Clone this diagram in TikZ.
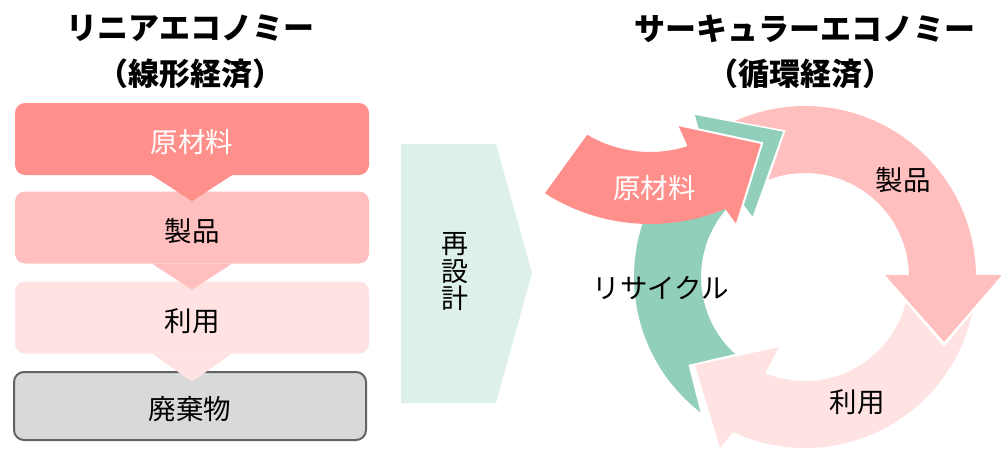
\documentclass[tikz,border=0pt]{standalone}
\usepackage{fontspec}
\setmainfont{Noto Sans CJK JP}
\definecolor{cRaw}{HTML}{FF8F8A}
\definecolor{cProd}{HTML}{FFBFBE}
\definecolor{cUse}{HTML}{FFE3E3}
\definecolor{cGreen}{HTML}{91CFBB}
\definecolor{cMid}{HTML}{DDF0EC}
\definecolor{cWaste}{HTML}{D9D9D9}
\definecolor{cWasteLine}{HTML}{636363}
\begin{document}
\begin{tikzpicture}[x=1pt,y=1pt,
  lbl/.style={font=\fontsize{27.5}{30}\selectfont, text=black, inner sep=0pt},
  ttl/.style={font=\fontsize{31}{34}\selectfont\bfseries, inner sep=0pt},
  box/.style={minimum width=354pt, minimum height=72pt, rounded corners=10pt, inner sep=0pt,
              font=\fontsize{27.5}{30}\selectfont, text height=30pt, text depth=3pt},
]
\useasboundingbox (0,0) rectangle (1001,451);

% titles
\node[ttl] (tL1) at (190,422.5) {リニアエコノミー};
\node[ttl] (tL2) at (190,377) {（線形経済）};
\node[ttl] (tR1) at (804.5,422.5) {サーキュラーエコノミー};
\node[ttl] (tR2) at (800,377) {（循環経済）};

% linear stack
\node[box, fill=cWaste, draw=cWasteLine, line width=2pt, minimum width=352pt, minimum height=68pt] (waste) at (190,45) {廃棄物};
\node[box, fill=cUse] (useL) at (192,133.5) {利用};
\fill[cUse] ([xshift=-40pt]useL.south) -- ([xshift=40pt]useL.south) -- ([yshift=-28pt]useL.south) -- cycle;
\node[box, fill=cProd] (prodL) at (192,223.5) {製品};
\fill[cProd] ([xshift=-40pt]prodL.south) -- ([xshift=40pt]prodL.south) -- ([yshift=-26pt]prodL.south) -- cycle;
\node[box, fill=cRaw, text=white] (rawL) at (192,312) {原材料};
\fill[cRaw] ([xshift=-40pt]rawL.south) -- ([xshift=40pt]rawL.south) -- ([yshift=-26pt]rawL.south) -- cycle;

% redesign arrow
\fill[cMid] (401,48) -- (496,48) -- (532,178) -- (496,307) -- (401,307) -- cycle;
\node[lbl, align=center, font=\fontsize{27}{27.5}\selectfont] (redesign) at (455,179) {再\\設\\計};

% circular arrows
\begin{scope}[shift={(805,174)}]
\fill[cGreen] (232.3:171) arc[start angle=232.3, end angle=127, radius=171pt] -- (124.2:196) -- (98.6:147) -- (131:80) -- (130:104) arc[start angle=130, end angle=227.7, radius=104pt] -- (217:146) -- cycle;
\fill[cProd] (114.2:171) arc[start angle=114.2, end angle=0.7, radius=171pt] -- (0.6:197) -- (-25:153.5) -- (1.4:80) -- (1.1:104) arc[start angle=1.1, end angle=110.5, radius=104pt] -- (97.5:148) -- cycle;
\fill[cUse] (-12.3:171) arc[start angle=-12.3, end angle=-115, radius=171pt] -- (-116.4:191) -- (-141.3:141) -- (-110.4:75) -- (-112.6:104) arc[start angle=-112.6, end angle=-14.2, radius=104pt] -- (-26.7:155.6) -- cycle;
\end{scope}
\begin{scope}[shift={(650,422)}]
\fill[cRaw] (239.3:123) arc[start angle=239.3, end angle=287.8, radius=123pt] -- (286.3:100) -- (314.5:160) -- (293.9:214) -- (292.7:195) arc[start angle=292.7, end angle=237.4, radius=195pt] -- cycle;
\draw[white, line width=2pt, line join=miter] (286.3:100) -- (314.5:160) -- (293.9:214);
\end{scope}

\node[lbl, text=white] (rawR) at (654.5,262.5) {原材料};
\node[lbl] (prodR) at (903,271) {製品};
\node[lbl] (useR) at (857,49) {利用};
\node[lbl] (recy) at (661,163) {リサイクル};
\end{tikzpicture}
\end{document}
